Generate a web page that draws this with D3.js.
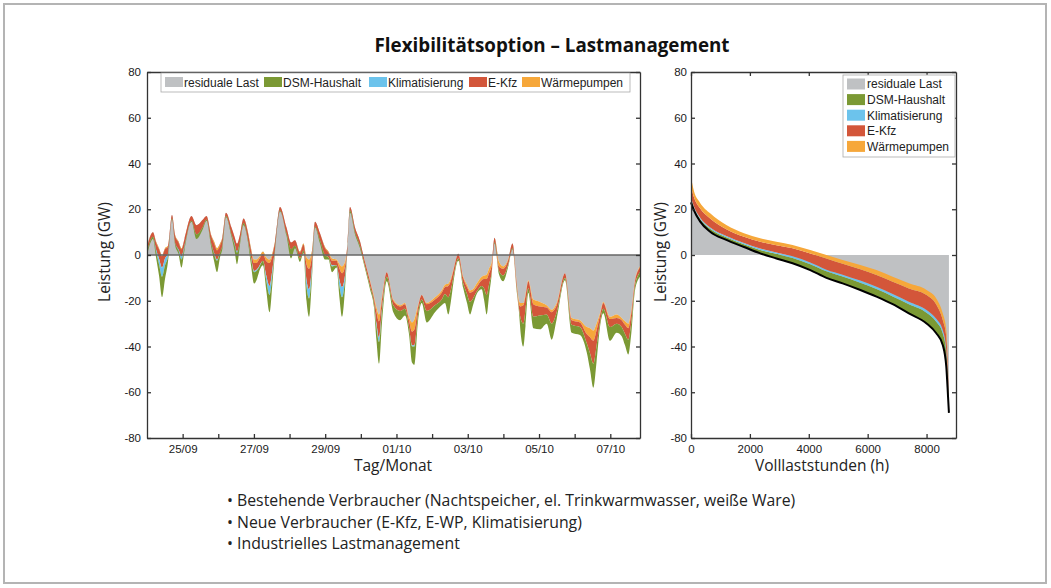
<!DOCTYPE html>
<html>
<head>
<meta charset="utf-8">
<script src="https://cdn.jsdelivr.net/npm/d3@7"></script>
<style>
  body { margin: 0; background: #fff; }
  svg { display: block; }
  .tick text { font-family: "Liberation Sans", Arial, sans-serif; font-size: 11.5px; fill: #1a1a1a; }
  .axis path, .axis line { stroke: #333; stroke-width: 1.3; }
</style>
</head>
<body>
<div id="chart"></div>
<script>
// left chart: hours since 24/09 00:00, residual load and flex layers (GW)
var dayHours = [0, 4.04, 6.06, 8.08, 10.1, 12.12, 14.14, 16.84, 18.86, 21.21, 23.23, 25.25, 29.97, 33.33,
  37.71, 40.07, 43.1, 45.12, 47.14, 49.16, 50.84, 53.2, 56.9, 58.93, 60.61, 62.63, 64.99, 68.02,
  70.04, 72.06, 73.74, 75.42, 78.12, 80.14, 82.5, 84.52, 86.2, 89.57, 93.94, 96.97, 99.67, 103.03,
  105.39, 107.41, 109.1, 111.12, 113.14, 116.5, 119.87, 122.23, 124.58, 127.61, 129.64, 131.32,
  133.34, 135.02, 136.71, 140.08, 143.44, 145.66, 150.18, 152.87, 154.55, 156.23, 158.25, 161.42,
  165.86, 170.38, 173.74, 176.43, 178.46, 180.14, 182.5, 184.99, 188.36, 193.95, 198.46, 200.68,
  202.9, 204.72, 206.27, 209.64, 213, 215.5, 217.52, 219.54, 222.03, 225.4, 226.95, 228.76, 230.31,
  232.13, 234.02, 237.05, 239.94, 243.11, 246.14, 248.97, 250.52, 251.53, 253.41, 254.9, 256.78,
  260.15, 264.66, 269.17, 272.54, 275.91, 281.5, 286.01, 291.6, 296.11, 298.34, 300.56, 302.71,
  305.07, 307.29, 311.8, 316.31, 319.68, 321.9, 324.12, 325.94, 328.63, 332];
var residual = [4, 10, 6, 3, 0, 3, 4, 17.5, 9, 6, 3, 7, 17, 13,
  15.5, 17, 9, 6, 3, 5, 8, 18.5, 12, 8, 5, 9, 16, 10,
  3, -2, -2, -1, 1.5, -1, -2, 1, 6, 21, 12, 5.5, 6.5, 1.5,
  5, -1, -2, 2, 14.5, 9.5, 3.5, 1.5, -1.5, -2, -4, -5,
  -3, 5, 21, 12, 6, 0, -11, -18, -23, -26, -18, -7.5,
  -19.5, -22, -21, -27, -29.5, -28, -22, -17.5, -21, -18.5, -15.5, -13,
  -12.5, -10, -6.5, 0.5, -9.5, -13, -15.5, -15, -12.5, -9.5, -9, -8.5, -6,
  -3, 7.5, -3, -5, -2, 5, -12, -20, -21, -21, -17, -11,
  -19.5, -20.5, -22, -24, -21, -8, -27.5, -28.5, -31.5, -32, -33, -30,
  -25.5, -20.5, -27, -26, -27.5, -29, -30, -25, -11, -5];
var waermepumpen = [0.5, 0, 0.5, 0.5, 0.5, 0.5, 0.5, 0, 0.5, 0.5, 0.5, 0, 0, 0,
  0, 0, 0.5, 1, 1, 1, 0.5, 0, 0, 0, 0, 0, 0, 0.5,
  1, 1.5, 1.5, 1, 1, 1.5, 1.5, 1, 0.5, 0, 0, 0, 0, 0.5,
  0.5, 3, 4, 2, 0, 0, 0.5, 0.5, 1, 0.5, 2, 3,
  2, 0, 0, 0, 0, 0, 0.5, 1, 2, 3, 1.5, 0,
  0.5, 0.5, 0.5, 1.5, 4, 4.5, 1, 0, 0.5, 1, 1, 1,
  1, 1, 0.5, 0, 0.5, 1, 1, 1, 1.5, 1.5, 1.5, 2, 2,
  1.5, 0, 2, 1, 0.5, 0, 0.5, 1.5, 1.5, 1, 1, 0.5,
  2, 2, 1, 1, 1, 0, 1, 1, 3, 4, 4.5, 3,
  1, 0.5, 1, 1.5, 1, 1.5, 2, 1.5, 0.5, 0.5];
var eKfz = [2, 2, 3, 4, 5, 4, 3, 1.5, 3, 3, 3, 3, 2, 4,
  3, 1.5, 3, 4, 4, 3, 3, 1.5, 3, 3, 3.5, 3, 2, 3,
  3, 3.5, 3, 3, 3, 6, 10, 6, 3, 1.5, 2.5, 3, 2.5, 2.5,
  2.5, 7, 9, 5, 2, 3, 3, 2, 2, 2, 5, 6,
  4, 2, 1.5, 2, 2, 2, 2, 2, 5, 7, 4, 2,
  2, 2, 2, 3, 6, 7, 3, 2, 3, 2.5, 3, 3,
  5, 4, 3, 2, 2.5, 3, 4, 3, 2, 2.5, 4, 7, 5,
  3, 2, 2, 3, 2, 2, 2, 2, 5, 8, 6, 3,
  5.5, 4, 3, 5, 3, 2, 2, 2, 4, 7, 10, 7,
  3, 2.5, 3.5, 2.5, 3, 4, 5, 4, 2, 2];
var klima = [0, 0, 1, 2.5, 4, 3, 1, 0, 0, 0.5, 1.5, 0.5, 0, 0,
  0, 0, 0, 0.5, 0.5, 0, 0, 0, 0, 0.5, 0.5, 0, 0, 0,
  0.5, 0.5, 0.5, 0.5, 0, 2, 4, 2, 0, 0, 0, 0, 0, 0,
  0, 3, 4, 2, 0, 0, 0, 0, 0.5, 0, 3, 4.5,
  2, 0, 0, 0, 0, 0, 0, 0, 1.5, 2, 1, 0,
  0, 0, 0, 0, 0.5, 0.5, 0, 0, 0, 0, 0, 0,
  0, 0, 0, 0, 0, 0, 0, 0, 0, 0, 0, 0, 0,
  0, 0, 0, 0, 0, 0, 0, 0, 0, 0, 0, 0,
  0, 0, 0, 0, 0, 0, 0, 0, 0, 0, 0, 0,
  0, 0, 0, 0, 0, 0, 0, 0, 0, 0];
var dsmHaushalt = [1.5, 1, 2.5, 5, 9, 6, 2.5, 0.5, 1, 1.5, 3.5, 1.5, 0.5, 2,
  1, 0.5, 1.5, 3, 5, 2, 1.5, 0.5, 1, 2.5, 5, 1.5, 1, 1,
  3, 5, 4, 2, 2, 4, 7.5, 4, 1.5, 0.5, 1, 4, 1, 1.5,
  1, 6, 8, 3, 0.5, 1.5, 2, 1, 2.5, 1, 5, 8.5,
  4, 1, 1, 1, 1, 1, 1.5, 2, 6, 9.5, 5, 2,
  3, 4, 3, 3, 7, 8, 3, 1.5, 5, 3, 2.5, 4,
  7.5, 5, 2.5, 1, 2, 4, 5.5, 3, 1, 1.5, 5, 8.5, 5,
  1, 0.5, 1.5, 2.5, 1, 0.5, 1.5, 1.5, 6, 10, 7, 2,
  5, 6, 4, 7, 3, 1, 3.5, 3.5, 4, 7, 10.5, 7,
  2, 2, 6, 4, 4, 5, 6.5, 5, 2, 2];

// right chart: load duration curve (hours sorted), base line and flex layers (GW)
var durHours = [0, 100, 300, 650, 1200, 1800, 2350, 2900, 3450, 4050, 4600, 5150, 5750, 6300,
  6850, 7400, 8000, 8330, 8550, 8670, 8730, 8760];
var durBase = [23, 19.5, 14.8, 10.2, 6.6, 3.5, 0.7, -1.5, -3.6, -6.6, -10, -12.4, -15.3, -18.2,
  -21.5, -25.5, -29.9, -34.2, -39.3, -48.8, -62, -69];
var durDsm = [1.5, 1.2, 1.2, 1.3, 1.2, 1.2, 1.5, 2, 2.3, 2.6, 2.9, 3, 3.2, 3.3, 3.4, 4, 4.7, 5, 5.1, 6, 5, 1];
var durKlima = [0.5, 0.5, 0.5, 0.5, 0.5, 0.5, 0.6, 0.6, 0.7, 0.7, 0.7, 0.8, 0.9, 1, 1, 1.1, 1.2, 1.3, 1.4, 1.5, 1, 0.3];
var durEKfz = [5, 4, 4, 4, 3, 2.8, 3, 3.2, 3.5, 4, 4.9, 4.8, 5, 5.2, 5.4, 5.8, 6.5, 6.3, 4.4, 5.5, 4, 1];
var durWp = [4, 2.8, 2.5, 2.2, 1.8, 1.5, 1.5, 1.5, 1.5, 1.5, 1.5, 1.6, 1.8, 2.1, 2.2, 2.2, 2.2, 2.6, 2.9, 3, 2, 0.7];

var legendNames = ["residuale Last", "DSM-Haushalt", "Klimatisierung", "E-Kfz", "Wärmepumpen"];
var legendColors = ["#bfc1c3", "#7b9934", "#6cc3ec", "#d3563a", "#f6a73a"];
var layerColors = { wp: "#f6a73a", ek: "#d3563a", kl: "#6cc3ec", dsm: "#7b9934" };

var svgWidth = 1051;
var svgHeight = 588;

var svg = d3.select("#chart").append("svg")
  .attr("width", svgWidth)
  .attr("height", svgHeight);

// outer frame
svg.append("rect")
  .attr("x", 4).attr("y", 4)
  .attr("width", 1042).attr("height", 579)
  .attr("fill", "none")
  .attr("stroke", "#b4b4b4")
  .attr("stroke-width", 2);

svg.append("text")
  .attr("x", 552).attr("y", 52)
  .attr("text-anchor", "middle")
  .attr("font-family", "Open Sans, sans-serif")
  .attr("font-weight", "bold")
  .attr("font-size", 18.8)
  .attr("fill", "#111")
  .text("Flexibilitätsoption – Lastmanagement");

var yTop = 72, yBottom = 438;
var numFmt = function(d) { return String(d); };

// ---------- left chart ----------
var leftX0 = 147, leftX1 = 640;
var start = new Date(2012, 8, 24);
var hourMs = 3600 * 1000;
var xTime = d3.scaleTime()
  .domain([start, new Date(+start + 332 * hourMs)])
  .range([leftX0, leftX1]);
var yLeft = d3.scaleLinear().domain([-80, 80]).range([yBottom, yTop]);

var leftData = dayHours.map(function(h, i) {
  var top = residual[i];
  var a = top - waermepumpen[i];
  var b = a - eKfz[i];
  var c = b - klima[i];
  var d = c - dsmHaushalt[i];
  return { t: new Date(+start + h * hourMs), r: top, a: a, b: b, c: c, d: d };
});

var leftG = svg.append("g");

function leftArea(y0key, y1key) {
  return d3.area()
    .x(function(d) { return xTime(d.t); })
    .y0(function(d) { return y0key === "zero" ? yLeft(0) : yLeft(d[y0key]); })
    .y1(function(d) { return yLeft(d[y1key]); })
    .curve(d3.curveMonotoneX);
}

leftG.append("path").datum(leftData).attr("fill", legendColors[0]).attr("d", leftArea("zero", "r"));
leftG.append("path").datum(leftData).attr("fill", layerColors.wp).attr("d", leftArea("a", "r"));
leftG.append("path").datum(leftData).attr("fill", layerColors.ek).attr("d", leftArea("b", "a"));
leftG.append("path").datum(leftData).attr("fill", layerColors.kl).attr("d", leftArea("c", "b"));
leftG.append("path").datum(leftData).attr("fill", layerColors.dsm).attr("d", leftArea("d", "c"));

// zero line
leftG.append("line")
  .attr("x1", leftX0).attr("x2", leftX1)
  .attr("y1", yLeft(0)).attr("y2", yLeft(0))
  .attr("stroke", "#666").attr("stroke-width", 1.5);

var dayTicks = d3.range(1, 14).map(function(i) { return new Date(+start + i * 24 * hourMs); });
var fmtDay = d3.timeFormat("%d/%m");

var xAxisLeft = d3.axisBottom(xTime)
  .tickValues(dayTicks)
  .tickSizeInner(-4).tickSizeOuter(0).tickPadding(7)
  .tickFormat(function(d, i) { return i % 2 === 0 ? fmtDay(d) : ""; });
svg.append("g").attr("class", "axis")
  .attr("transform", "translate(0," + yBottom + ")")
  .call(xAxisLeft);
svg.append("g").attr("class", "axis")
  .attr("transform", "translate(0," + yTop + ")")
  .call(d3.axisTop(xTime).tickValues(dayTicks).tickSizeInner(-4).tickSizeOuter(0).tickFormat(""))
  .selectAll("line").attr("stroke", "#bbb");

var yTicks = d3.range(-80, 81, 20);
svg.append("g").attr("class", "axis")
  .attr("transform", "translate(" + leftX0 + ",0)")
  .call(d3.axisLeft(yLeft).tickValues(yTicks).tickSizeInner(-4).tickSizeOuter(0).tickPadding(6).tickFormat(numFmt));
svg.append("g").attr("class", "axis")
  .attr("transform", "translate(" + leftX1 + ",0)")
  .call(d3.axisRight(yLeft).tickValues(yTicks).tickSizeInner(-4).tickSizeOuter(0).tickFormat(""));

// left legend (horizontal)
var legL = svg.append("g");
legL.append("rect")
  .attr("x", 161).attr("y", 73).attr("width", 469).attr("height", 19)
  .attr("fill", "#fff").attr("stroke", "#aaa").attr("stroke-width", 0.8);
var legLX = [165, 264, 369, 469, 522];
legendNames.forEach(function(name, i) {
  legL.append("rect")
    .attr("x", legLX[i]).attr("y", 77).attr("width", 18).attr("height", 10)
    .attr("fill", legendColors[i]);
  legL.append("text")
    .attr("x", legLX[i] + 19).attr("y", 86.5)
    .attr("font-family", "Liberation Sans, Arial, sans-serif")
    .attr("font-size", 12).attr("fill", "#222")
    .text(name);
});

svg.append("text")
  .attr("transform", "translate(110,252) rotate(-90)")
  .attr("text-anchor", "middle")
  .attr("font-family", "Open Sans, sans-serif")
  .attr("font-size", 15.5).attr("fill", "#222")
  .text("Leistung (GW)");
svg.append("text")
  .attr("x", 393).attr("y", 471)
  .attr("text-anchor", "middle")
  .attr("font-family", "Open Sans, sans-serif")
  .attr("font-size", 15.5).attr("fill", "#222")
  .text("Tag/Monat");

// ---------- right chart ----------
var rightX0 = 691, rightX1 = 956;
var xDur = d3.scaleLinear().domain([0, 9000]).range([rightX0, rightX1]);
var yRight = d3.scaleLinear().domain([-80, 80]).range([yBottom, yTop]);

var durData = durHours.map(function(h, i) {
  var base = durBase[i];
  var a = base + durDsm[i];
  var b = a + durKlima[i];
  var c = b + durEKfz[i];
  var d = c + durWp[i];
  return { h: h, base: base, a: a, b: b, c: c, d: d };
});

function durArea(y0key, y1key) {
  return d3.area()
    .x(function(d) { return xDur(d.h); })
    .y0(function(d) { return y0key === "zero" ? yRight(0) : yRight(d[y0key]); })
    .y1(function(d) { return yRight(d[y1key]); })
    .curve(d3.curveMonotoneX);
}

var rightG = svg.append("g");
rightG.append("path").datum(durData).attr("fill", legendColors[0]).attr("d", durArea("zero", "base"));
rightG.append("path").datum(durData).attr("fill", layerColors.dsm).attr("d", durArea("base", "a"));
rightG.append("path").datum(durData).attr("fill", layerColors.kl).attr("d", durArea("a", "b"));
rightG.append("path").datum(durData).attr("fill", layerColors.ek).attr("d", durArea("b", "c"));
rightG.append("path").datum(durData).attr("fill", layerColors.wp).attr("d", durArea("c", "d"));
rightG.append("path").datum(durData)
  .attr("fill", "none").attr("stroke", "#000").attr("stroke-width", 2)
  .attr("d", d3.line()
    .x(function(d) { return xDur(d.h); })
    .y(function(d) { return yRight(d.base); })
    .curve(d3.curveMonotoneX));

var durTicks = [0, 2000, 4000, 6000, 8000];
svg.append("g").attr("class", "axis")
  .attr("transform", "translate(0," + yBottom + ")")
  .call(d3.axisBottom(xDur).tickValues(durTicks).tickSizeInner(-4).tickSizeOuter(0).tickPadding(7).tickFormat(numFmt));
svg.append("g").attr("class", "axis")
  .attr("transform", "translate(0," + yTop + ")")
  .call(d3.axisTop(xDur).tickValues(durTicks).tickSizeInner(-4).tickSizeOuter(0).tickFormat(""))
  .selectAll("line").attr("stroke", "#bbb");
svg.append("g").attr("class", "axis")
  .attr("transform", "translate(" + rightX0 + ",0)")
  .call(d3.axisLeft(yRight).tickValues(yTicks).tickSizeInner(-4).tickSizeOuter(0).tickPadding(4).tickFormat(numFmt));
svg.append("g").attr("class", "axis")
  .attr("transform", "translate(" + rightX1 + ",0)")
  .call(d3.axisRight(yRight).tickValues(yTicks).tickSizeInner(-4).tickSizeOuter(0).tickFormat(""));

// right legend (vertical)
var legR = svg.append("g");
legR.append("rect")
  .attr("x", 843).attr("y", 75).attr("width", 112).attr("height", 82)
  .attr("fill", "#fff").attr("stroke", "#aaa").attr("stroke-width", 0.8);
legendNames.forEach(function(name, i) {
  var cy = 84 + i * 15.6;
  legR.append("rect")
    .attr("x", 847).attr("y", cy - 5.5).attr("width", 18).attr("height", 11)
    .attr("fill", legendColors[i]);
  legR.append("text")
    .attr("x", 867).attr("y", cy + 4.3)
    .attr("font-family", "Liberation Sans, Arial, sans-serif")
    .attr("font-size", 12).attr("fill", "#222")
    .text(name);
});

svg.append("text")
  .attr("transform", "translate(666,252) rotate(-90)")
  .attr("text-anchor", "middle")
  .attr("font-family", "Open Sans, sans-serif")
  .attr("font-size", 15.5).attr("fill", "#222")
  .text("Leistung (GW)");
svg.append("text")
  .attr("x", 822).attr("y", 471)
  .attr("text-anchor", "middle")
  .attr("font-family", "Open Sans, sans-serif")
  .attr("font-size", 15.5).attr("fill", "#222")
  .text("Volllaststunden (h)");

// bullet list
var bullets = [
  "Bestehende Verbraucher (Nachtspeicher, el. Trinkwarmwasser, weiße Ware)",
  "Neue Verbraucher (E-Kfz, E-WP, Klimatisierung)",
  "Industrielles Lastmanagement"
];
bullets.forEach(function(b, i) {
  svg.append("text")
    .attr("x", 227).attr("y", 506 + i * 21.7)
    .attr("font-family", "Open Sans, sans-serif")
    .attr("font-size", 15.8).attr("fill", "#222")
    .text("• " + b);
});
</script>
</body>
</html>
